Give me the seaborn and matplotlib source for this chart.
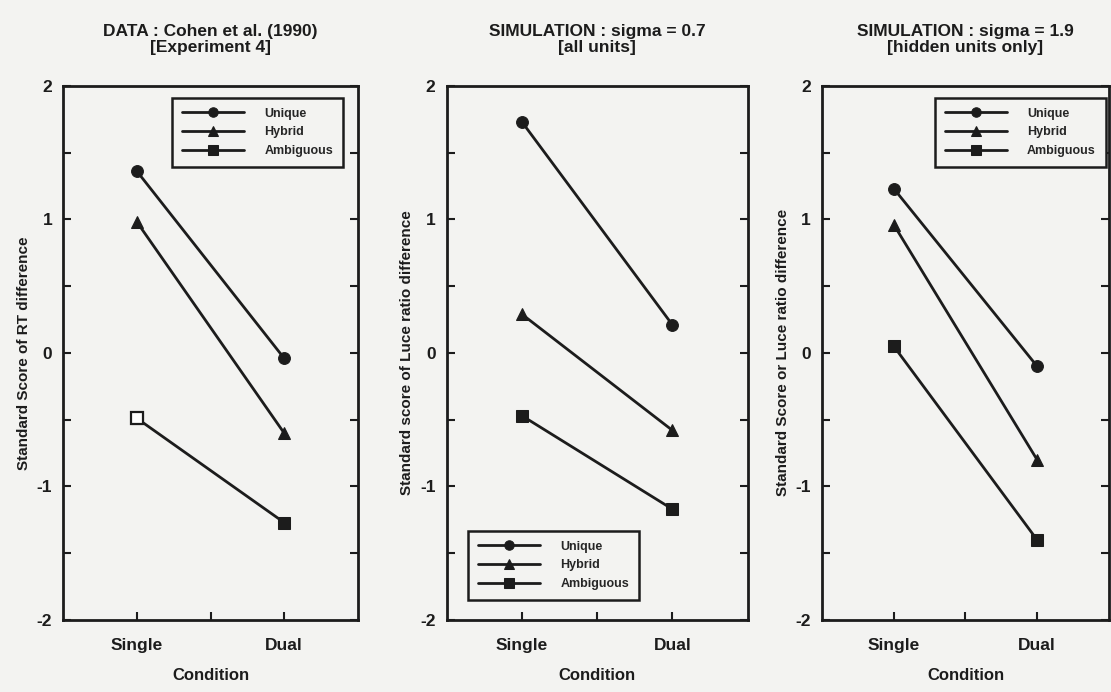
import numpy as np
import pandas as pd
import matplotlib
matplotlib.use("Agg")
import matplotlib.pyplot as plt
import seaborn as sns

# datos
conditions = ["Single", "Dual"]
types = ["Unique", "Hybrid", "Ambiguous"]

data_unique = [1.36, -0.04]
data_hybrid = [0.98, -0.60]
data_ambig = [-0.49, -1.27]

sim07_unique = [1.73, 0.21]
sim07_hybrid = [0.29, -0.58]
sim07_ambig = [-0.47, -1.17]

sim19_unique = [1.23, -0.10]
sim19_hybrid = [0.96, -0.80]
sim19_ambig = [0.05, -1.40]

titles = ["DATA : Cohen et al. (1990)\n[Experiment 4]",
          "SIMULATION : sigma = 0.7\n[all units]",
          "SIMULATION : sigma = 1.9\n[hidden units only]"]
ylabels = ["Standard Score of RT difference",
           "Standard score of Luce ratio difference",
           "Standard Score or Luce ratio difference"]

sns.set_theme(style="ticks")
plt.rcParams['font.family'] = ['Liberation Sans', 'DejaVu Sans']
plt.rcParams['font.weight'] = 'bold'
plt.rcParams['axes.labelweight'] = 'bold'
plt.rcParams['axes.titleweight'] = 'bold'

bg = "#f3f3f1"
ink = "#1c1c1c"
fig = plt.figure(figsize=(11.11, 6.92), dpi=100, facecolor=bg)

lefts = [0.057, 0.402, 0.740]
widths = [0.265, 0.271, 0.258]
panels = [(data_unique, data_hybrid, data_ambig),
          (sim07_unique, sim07_hybrid, sim07_ambig),
          (sim19_unique, sim19_hybrid, sim19_ambig)]
leg_pos = [("upper right", (0.95, 0.978)),
           ("lower left", (0.07, 0.037)),
           ("upper right", (0.99, 0.978))]

markers = {"Unique": "o", "Hybrid": "^", "Ambiguous": "s"}
xpos = {c: i + 1 for i, c in enumerate(conditions)}

for k in range(3):
    ax = fig.add_axes([lefts[k], 0.104, widths[k], 0.772])
    ax.set_facecolor(bg)
    u, h, a = panels[k]
    df = pd.DataFrame({
        "Condition": conditions * 3,
        "Type": [t for t in types for _ in conditions],
        "Score": u + h + a,
    })
    df["x"] = df["Condition"].map(xpos)
    sns.lineplot(data=df, x="x", y="Score", hue="Type", style="Type",
                 markers=markers, dashes=False, hue_order=types,
                 style_order=types,
                 palette=[ink] * 3, markersize=8.5, linewidth=2.0,
                 markeredgecolor=ink, ax=ax)
    if k == 0:
        # el punto Single/Ambiguous aparece hueco en el original
        ax.plot(1, a[0], marker="s", markersize=8, markerfacecolor="white",
                markeredgecolor=ink, markeredgewidth=1.6, zorder=5)

    ax.set_xlim(0.5, 2.5)
    ax.set_ylim(-2, 2)
    ax.set_xticks([1, 1.5, 2])
    ax.set_xticklabels(["Single", "", "Dual"])
    ax.set_yticks([-2, -1.5, -1, -0.5, 0, 0.5, 1, 1.5, 2])
    ax.set_yticklabels(["-2", "", "-1", "", "0", "", "1", "", "2"])
    ax.tick_params(direction="in", length=6, width=1.5, right=True,
                   labelsize=12.5, colors=ink, pad=8)
    ax.tick_params(axis="x", pad=13)
    for sp in ax.spines.values():
        sp.set_linewidth(2.0)
        sp.set_color(ink)
    ax.set_xlabel("Condition", fontsize=12, labelpad=11, color=ink)
    ax.set_ylabel(ylabels[k], fontsize=11, labelpad=4, color=ink)
    ax.set_title(titles[k], fontsize=12.5, pad=24, color=ink,
                 linespacing=1.15)

    handles, labels = ax.get_legend_handles_labels()
    loc, anchor = leg_pos[k]
    leg = ax.legend(handles, labels, loc=loc, bbox_to_anchor=anchor,
                    frameon=True, fancybox=False, handlelength=5.0,
                    markerscale=0.8,
                    prop={"weight": "bold", "size": 9}, labelspacing=0.55,
                    borderpad=0.8, handletextpad=1.6, borderaxespad=0)
    leg.get_frame().set_edgecolor(ink)
    leg.get_frame().set_linewidth(1.8)
    leg.get_frame().set_facecolor(bg)
    leg.get_frame().set_alpha(1)

fig.savefig("out.png", dpi=100, facecolor=bg)
